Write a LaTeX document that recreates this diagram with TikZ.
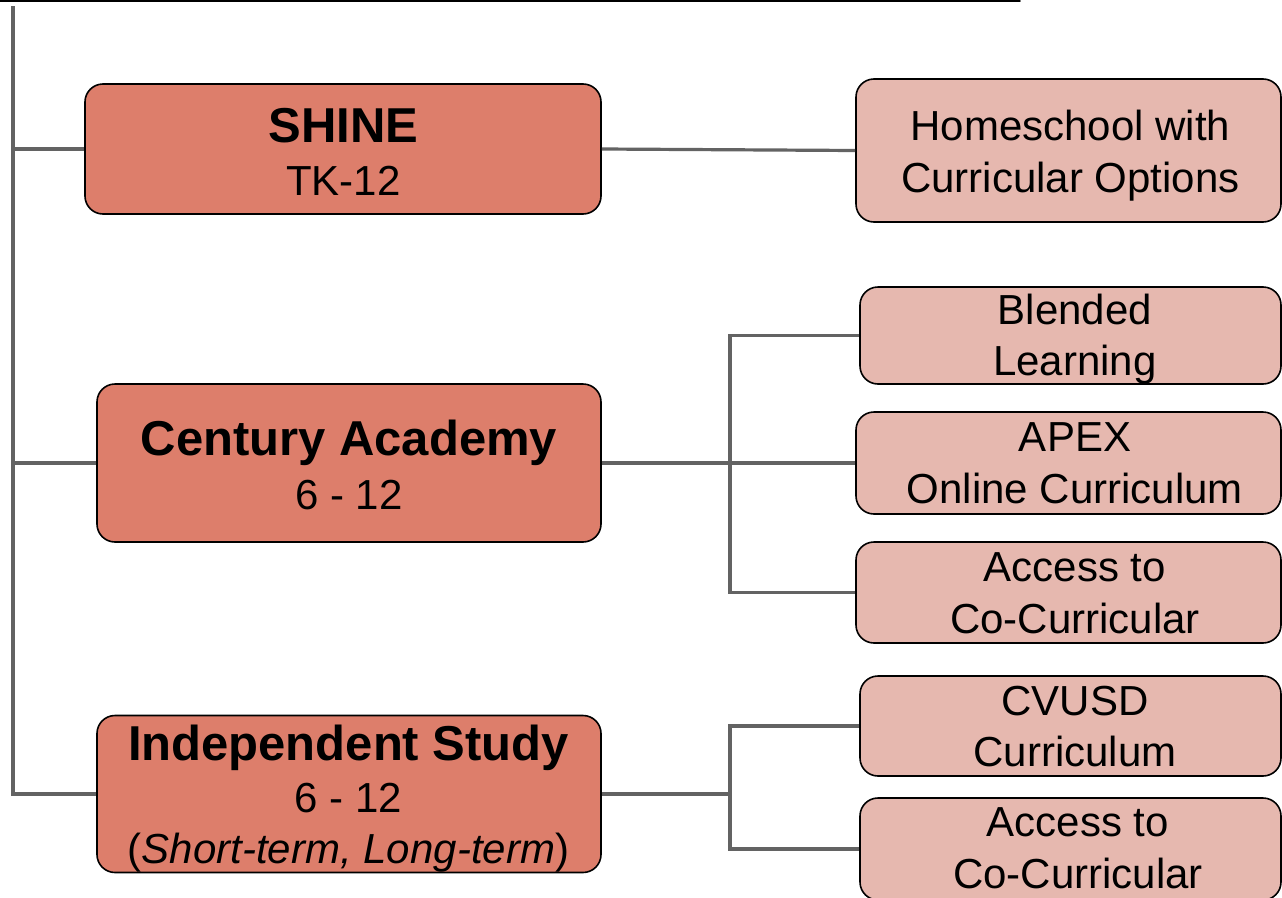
\documentclass[tikz,border=0pt]{standalone}
\usepackage{fontspec}
\setmainfont{Liberation Sans}
\definecolor{mainc}{HTML}{DD7E6B}
\definecolor{subc}{HTML}{E6B8AF}
\definecolor{linec}{HTML}{636363}
\begin{document}
\begin{tikzpicture}[x=1pt,y=-1pt,
  boxbase/.style={draw=black, line width=1.6pt, rounded corners=18pt, inner sep=0pt},
  mainbox/.style={boxbase, fill=mainc},
  subbox/.style={boxbase, fill=subc},
  txt/.style={anchor=base, inner sep=0pt, font=\fontsize{42}{52}\selectfont},
  ttl/.style={anchor=base, inner sep=0pt, font=\bfseries\fontsize{49}{52}\selectfont},
  conn/.style={draw=linec, line width=3.2pt}]
\useasboundingbox (0,0) rectangle (1282,897);
\fill[white] (0,0) rectangle (1282,897);
\draw[black, line width=1.6pt, line cap=round] (-5,1) -- (1020,1);

% main boxes
\node[mainbox, minimum width=516, minimum height=130] (shine) at (343,149) {};
\node[mainbox, minimum width=504, minimum height=158] (century) at (349,463) {};
\node[mainbox, minimum width=504, minimum height=157] (indep) at (349,794) {};

% sub boxes
\node[subbox, minimum width=425, minimum height=143] (home) at (1068.5,150.5) {};
\node[subbox, minimum width=421, minimum height=97] (blend) at (1070.5,335.5) {};
\node[subbox, minimum width=425, minimum height=102] (apex) at (1068.5,463) {};
\node[subbox, minimum width=425, minimum height=101] (acc1) at (1068.5,592.5) {};
\node[subbox, minimum width=421, minimum height=100] (cvusd) at (1070.5,726) {};
\node[subbox, minimum width=421, minimum height=102] (acc2) at (1070.5,849) {};

% texts
\node[ttl] (shineA) at (343.5,142) {SHINE};
\node[txt] (shineB) at (343.5,195) {TK-12};
\node[ttl] (centA) at (349,455) {Century Academy};
\node[txt] (centB) at (349,509) {6 - 12};
\node[ttl] (indA) at (348.5,760) {Independent Study};
\node[txt] (indB) at (348.5,812.5) {6 - 12};
\node[txt] (indC) at (348.5,863) {(\textit{Short-term, Long-term})};

\node[txt] (homeA) at (1070.5,140) {Homeschool with};
\node[txt] (homeB) at (1070.5,192) {Curricular Options};
\node[txt] (blendA) at (1075,324.5) {Blended};
\node[txt] (blendB) at (1075,375.5) {Learning};
\node[txt] (apexA) at (1075,451.5) {APEX};
\node[txt] (apexB) at (1075,503) {Online Curriculum};
\node[txt] (acc1A) at (1075,581.5) {Access to};
\node[txt] (acc1B) at (1075,633) {Co-Curricular};
\node[txt] (cvA) at (1075,715) {CVUSD};
\node[txt] (cvB) at (1075,766.5) {Curriculum};
\node[txt] (acc2A) at (1078,836.5) {Access to};
\node[txt] (acc2B) at (1078,888) {Co-Curricular};

% connectors
\coordinate (ttop) at (13,6);
\coordinate (tbot) at (13,794);
\coordinate (jc) at (730,463);
\coordinate (ji) at (730,794);
\draw[conn] (ttop) -- (tbot) -- (indep.west);
\draw[conn] (shine.west) -- (shine.west -| ttop);
\draw[conn] (century.west) -- (century.west -| ttop);
\draw[conn] (shine.east) -- (home.west);
\draw[conn] (century.east) -- (jc) -- (apex.west);
\draw[conn] (blend.west) -| (jc) |- (acc1.west);
\draw[conn] (indep.east) -- (ji);
\draw[conn] (cvusd.west) -| (ji) |- (acc2.west);
\end{tikzpicture}
\end{document}
